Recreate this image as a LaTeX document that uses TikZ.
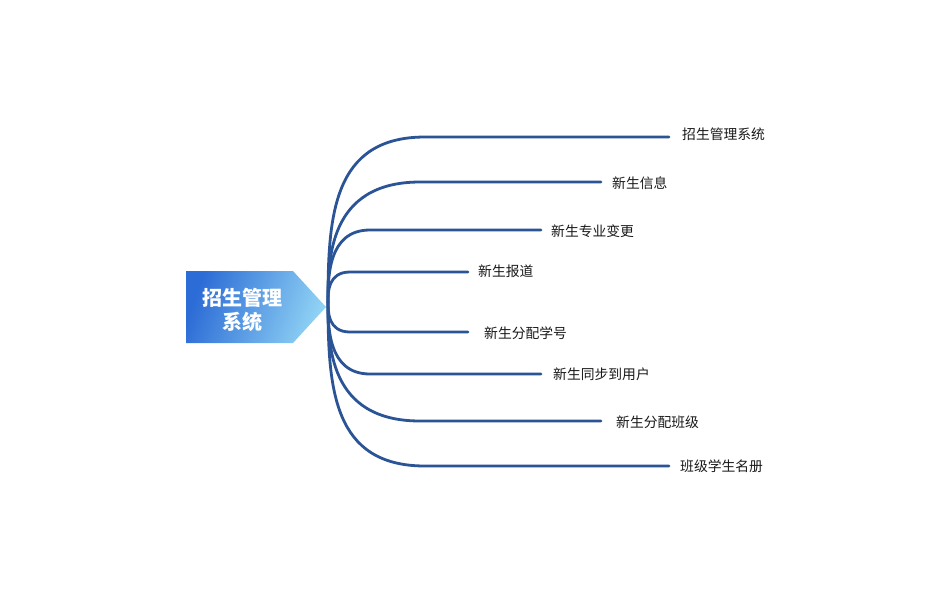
\documentclass[tikz,border=0pt]{standalone}
\usepackage{fontspec}
\setmainfont{Noto Sans CJK SC}
\begin{document}
\begin{tikzpicture}[x=1pt,y=-1pt,
  branch/.style={draw={rgb,255:red,42;green,84;blue,150},line width=2.8pt,line cap=round},
  leaf/.style={anchor=west,inner sep=0pt,font=\fontsize{13.8}{16}\selectfont,text={rgb,255:red,25;green,25;blue,25}},
  rootlabel/.style={align=center,inner sep=0pt,font=\fontsize{20}{24}\selectfont\bfseries,text=white}]
\useasboundingbox (0,0) rectangle (950,600);
\fill[white] (0,0) rectangle (950,600);
% root shape
\shade[left color={rgb,255:red,44;green,108;blue,214},right color={rgb,255:red,143;green,210;blue,244},shading angle=70]
  (186,271) -- (293,271) -- (326,307) -- (293,343) -- (186,343) -- cycle;
\node[rootlabel] (root) at (242,310) {招生管理\\系统};
\coordinate (hub) at (328,302);
% line ends
\coordinate (e1) at (669,137);
\coordinate (e2) at (601,182);
\coordinate (e3) at (541,230);
\coordinate (e4) at (468,272);
\coordinate (e5) at (468,332);
\coordinate (e6) at (541,374);
\coordinate (e7) at (601,421);
\coordinate (e8) at (669,466);
% labels
\node[leaf] (l1) at (682,134) {招生管理系统};
\node[leaf] (l2) at (612,183) {新生信息};
\node[leaf] (l3) at (551,231) {新生专业变更};
\node[leaf] (l4) at (478,271) {新生报道};
\node[leaf] (l5) at (484,333) {新生分配学号};
\node[leaf] (l6) at (553,374) {新生同步到用户};
\node[leaf] (l7) at (616,422) {新生分配班级};
\node[leaf] (l8) at (680,466) {班级学生名册};
% branches
\draw[branch] (hub) .. controls (328,215) and (333,137) .. (425,137) -- (e1);
\draw[branch] (hub) .. controls (328,260) and (328,182) .. (420,182) -- (e2);
\draw[branch] (hub) .. controls (328,277) and (328,230) .. (370,230) -- (e3);
\draw[branch] (hub) .. controls (328,292) and (328,272) .. (350,272) -- (e4);
\draw[branch] (hub) .. controls (328,312) and (328,332) .. (350,332) -- (e5);
\draw[branch] (hub) .. controls (328,327) and (328,374) .. (370,374) -- (e6);
\draw[branch] (hub) .. controls (328,344) and (328,421) .. (420,421) -- (e7);
\draw[branch] (hub) .. controls (328,389) and (333,466) .. (425,466) -- (e8);
\end{tikzpicture}
\end{document}
